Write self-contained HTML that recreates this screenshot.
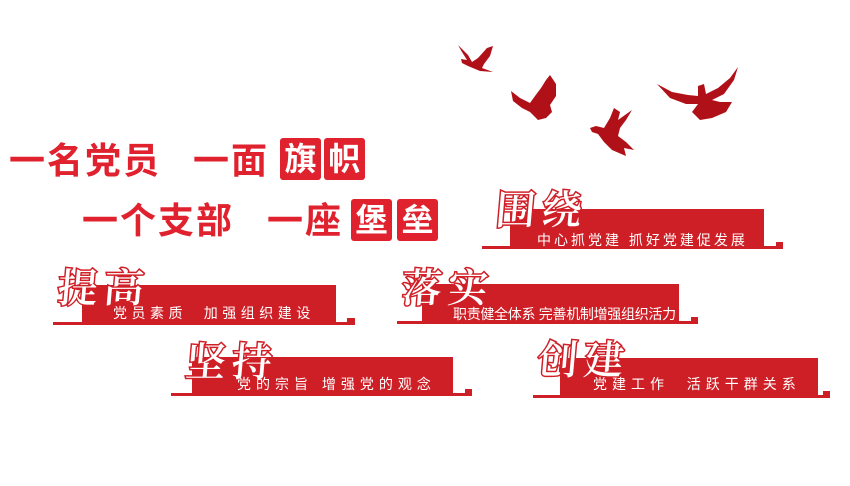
<!DOCTYPE html>
<html><head><meta charset="utf-8"><style>
body{margin:0;background:#fff;}
#c{position:relative;width:850px;height:486px;overflow:hidden;background:#fff;font-family:"Liberation Sans","Noto Sans CJK SC",sans-serif;}
.t{position:absolute;color:#e0212e;font-weight:bold;font-size:36px;line-height:40px;white-space:nowrap;letter-spacing:2px;}
.box{position:absolute;background:#e0212e;color:#fff;font-weight:bold;font-size:32px;line-height:42px;text-align:center;border-radius:3px;}
.r{position:absolute;background:#cf1f26;}
.s{position:absolute;color:#fff;font-size:14px;line-height:16px;white-space:nowrap;}
.cal{position:absolute;font-family:"Noto Serif CJK SC",serif;font-weight:600;font-size:40px;line-height:44px;color:#fff;-webkit-text-stroke:3px #d01f27;paint-order:stroke fill;white-space:nowrap;letter-spacing:6px;transform:skewX(-5deg);}
</style></head><body><div id="c">
<div class="t" style="left:9px;top:141px;">一名党员</div>
<div class="t" style="left:193px;top:141px;">一面</div>
<div class="box" style="left:280px;top:138px;width:41px;height:42px;">旗</div>
<div class="box" style="left:324px;top:138px;width:41px;height:42px;">帜</div>
<div class="t" style="left:82px;top:201px;">一个支部</div>
<div class="t" style="left:267px;top:201px;">一座</div>
<div class="box" style="left:351px;top:199px;width:41px;height:42px;">堡</div>
<div class="box" style="left:397px;top:199px;width:41px;height:42px;">垒</div>

<div class="r" style="left:510px;top:209px;width:254px;height:38px;"></div>
<div class="r" style="left:482px;top:246px;width:301px;height:3px;"></div>
<div class="r" style="left:776px;top:242px;width:7px;height:7px;"></div>
<div class="cal" style="left:496px;top:186px;">围绕</div>
<div class="s" style="left:537px;top:232px;letter-spacing:3px;">中心抓党建 抓好党建促发展</div>

<div class="r" style="left:82px;top:285px;width:254px;height:38px;"></div>
<div class="r" style="left:53px;top:322px;width:302px;height:3px;"></div>
<div class="r" style="left:347px;top:318px;width:8px;height:7px;"></div>
<div class="cal" style="left:58px;top:264px;">提高</div>
<div class="s" style="left:113px;top:305px;letter-spacing:4.5px;">党员素质&nbsp;&nbsp;加强组织建设</div>

<div class="r" style="left:422px;top:284px;width:257px;height:38px;"></div>
<div class="r" style="left:397px;top:321px;width:301px;height:3px;"></div>
<div class="r" style="left:691px;top:317px;width:7px;height:7px;"></div>
<div class="cal" style="left:402px;top:264px;">落实</div>
<div class="s" style="left:453px;top:306px;letter-spacing:-0.3px;">职责健全体系 完善机制增强组织活力</div>

<div class="r" style="left:192px;top:357px;width:261px;height:38px;"></div>
<div class="r" style="left:171px;top:393px;width:301px;height:3px;"></div>
<div class="r" style="left:465px;top:389px;width:7px;height:7px;"></div>
<div class="cal" style="left:186px;top:338px;">坚持</div>
<div class="s" style="left:237px;top:376px;letter-spacing:5px;">党的宗旨 增强党的观念</div>

<div class="r" style="left:560px;top:358px;width:258px;height:38px;"></div>
<div class="r" style="left:533px;top:395px;width:297px;height:3px;"></div>
<div class="r" style="left:823px;top:391px;width:7px;height:7px;"></div>
<div class="cal" style="left:538px;top:336px;">创建</div>
<div class="s" style="left:593px;top:376px;letter-spacing:5px;">党建工作&nbsp;&nbsp;活跃干群关系</div>

<svg style="position:absolute;left:0;top:0" width="850" height="486">
<g fill="#b01018">
<path d="M458,45 L468,55 L472,62 L478,58 L487,48 L493,46 L490,56 L484,64 L482,68 L493,72 L480,71 L468,66 L462,63 L461,59 L467,60 L462,52 Z"/>
<path d="M511,91 L520,98 L530,103 L535,96 L541,88 L546,80 L550,75 L556,84 L556,96 L550,105 L552,112 L546,118 L538,120 L530,112 L522,108 L513,101 Z"/>
<path d="M590,128 L596,126 L604,128 L610,118 L614,108 L620,112 L618,120 L632,110 L626,120 L620,128 L618,136 L626,142 L634,150 L624,148 L626,156 L612,150 L604,142 L598,134 L592,132 Z"/>
<path d="M657,84 L672,92 L688,95 L698,96 L698,86 L704,84 L706,94 L718,88 L730,78 L738,67 L734,80 L724,94 L712,100 L720,102 L732,102 L726,112 L712,118 L700,120 L692,112 L698,104 L686,104 L670,98 Z"/>
</g>
</svg>
</div></body></html>
